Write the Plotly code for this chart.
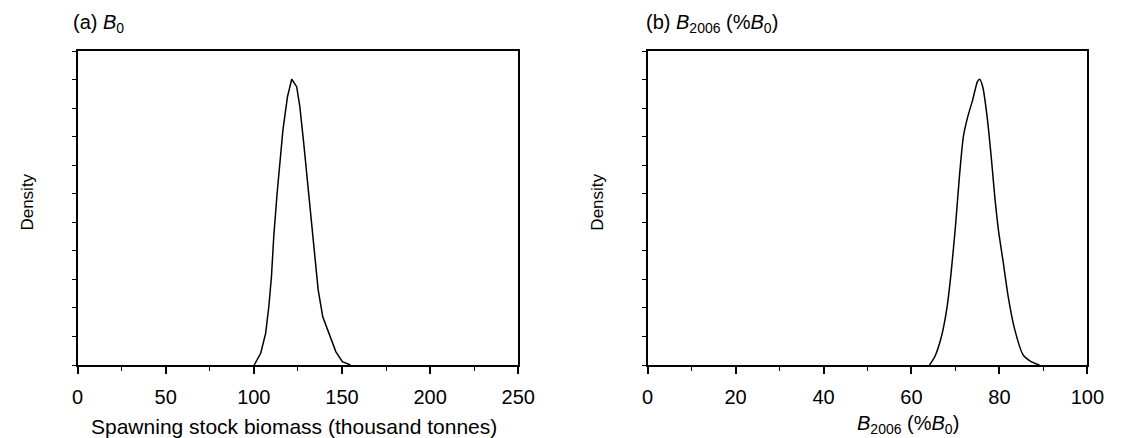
import plotly.graph_objects as go

# Posterior density of virgin spawning stock biomass (thousand tonnes)
b0_x = [100.2, 103.9, 106.7, 108.5, 110.0, 111.3, 113.2, 115.0, 116.5, 119.1, 121.5,
        124.3, 126.1, 128.3, 130.7, 133.1, 135.0, 136.5, 139.1, 142.8, 146.5, 150.2, 154.8]
b0_y = [0.0, 0.041, 0.111, 0.204, 0.309, 0.449, 0.601, 0.730, 0.823, 0.940, 1.001,
        0.975, 0.905, 0.777, 0.625, 0.461, 0.344, 0.263, 0.169, 0.105, 0.047, 0.012, 0.0]

# Posterior density of 2006 biomass as a percentage of B0
b2006_x = [64.1, 65.3, 66.8, 68.1, 69.0, 70.0, 70.9, 71.8, 72.8, 73.9, 75.0, 75.5,
           76.2, 77.2, 78.2, 79.0, 79.8, 80.9, 82.0, 83.5, 85.4, 87.2, 89.1]
b2006_y = [0.0, 0.029, 0.099, 0.204, 0.321, 0.485, 0.660, 0.800, 0.870, 0.928, 0.993, 1.001,
           0.975, 0.870, 0.718, 0.580, 0.470, 0.356, 0.239, 0.123, 0.035, 0.012, 0.0]

x_ticks_a = [0, 50, 100, 150, 200, 250]
x_ticks_b = [0, 20, 40, 60, 80, 100]

W, H = 1123, 438
FONT = "Arial, Liberation Sans, sans-serif"

fig = go.Figure()
fig.add_trace(go.Scatter(x=b0_x, y=b0_y, mode="lines", xaxis="x", yaxis="y",
                         line=dict(color="black", width=1.5), showlegend=False))
fig.add_trace(go.Scatter(x=b2006_x, y=b2006_y, mode="lines", xaxis="x2", yaxis="y2",
                         line=dict(color="black", width=1.5, shape="spline", smoothing=0.6),
                         showlegend=False))

def xax(domain, rng, ticks, minor_step, anchor):
    return dict(domain=domain, range=rng, tickvals=ticks, ticktext=[str(t) for t in ticks],
                ticks="outside", ticklen=7, tickwidth=1.5, tickcolor="black",
                minor=dict(ticks="outside", ticklen=4, tickwidth=1, tickcolor="black", dtick=minor_step,
                           tick0=0, showgrid=False),
                showline=True, linecolor="black", linewidth=2, mirror=True,
                showgrid=False, zeroline=False, anchor=anchor,
                tickfont=dict(family=FONT, size=20, color="black"), ticklabelstandoff=6)

def yax(domain, anchor):
    return dict(domain=domain, range=[0, 1.1], tick0=0, dtick=0.1, showticklabels=False,
                ticks="outside", ticklen=4, tickwidth=1, tickcolor="black",
                showline=True, linecolor="black", linewidth=2, mirror=True,
                showgrid=False, zeroline=False, anchor=anchor)

fig.update_layout(
    width=W, height=H,
    margin=dict(l=0, r=0, t=51, b=73),
    paper_bgcolor="white", plot_bgcolor="white",
    xaxis=xax([73 / W, 523 / W], [0, 250], x_ticks_a, 25, "y"),
    yaxis=yax([0, 1], "x"),
    xaxis2=xax([655 / W, 1104 / W], [0, 100], x_ticks_b, 10, "y2"),
    yaxis2=yax([0, 1], "x2"),
    font=dict(family=FONT, color="black"),
)

PH = H - 51 - 73

def py(pix):
    # convert a pixel row to paper y
    return (H - 73 - pix) / PH

anns = [
    dict(text="(a) <i>B</i><sub>0</sub>", x=66 / W, y=py(23), size=20, xanchor="left"),
    dict(text="(b) <i>B</i><sub>2006</sub> (%<i>B</i><sub>0</sub>)", x=651 / W, y=py(23), size=20, xanchor="left"),
    dict(text="Spawning stock biomass (thousand tonnes)", x=294 / W, y=py(426), size=21, xanchor="center"),
    dict(text="<i>B</i><sub>2006</sub> (%<i>B</i><sub>0</sub>)", x=921 / W, y=py(424), size=20, xanchor="center"),
]
for a in anns:
    fig.add_annotation(text=a["text"], x=a["x"], y=a["y"], xref="paper", yref="paper",
                       xanchor=a["xanchor"], yanchor="middle", showarrow=False,
                       font=dict(family=FONT, size=a["size"], color="black"))

for xpos in (21, 603):
    fig.add_annotation(text="Density", x=xpos / W, y=py(202), xref="paper", yref="paper",
                       xanchor="center", yanchor="middle", textangle=-90, showarrow=False,
                       font=dict(family=FONT, size=17, color="black"))

fig.write_html("out.html")
